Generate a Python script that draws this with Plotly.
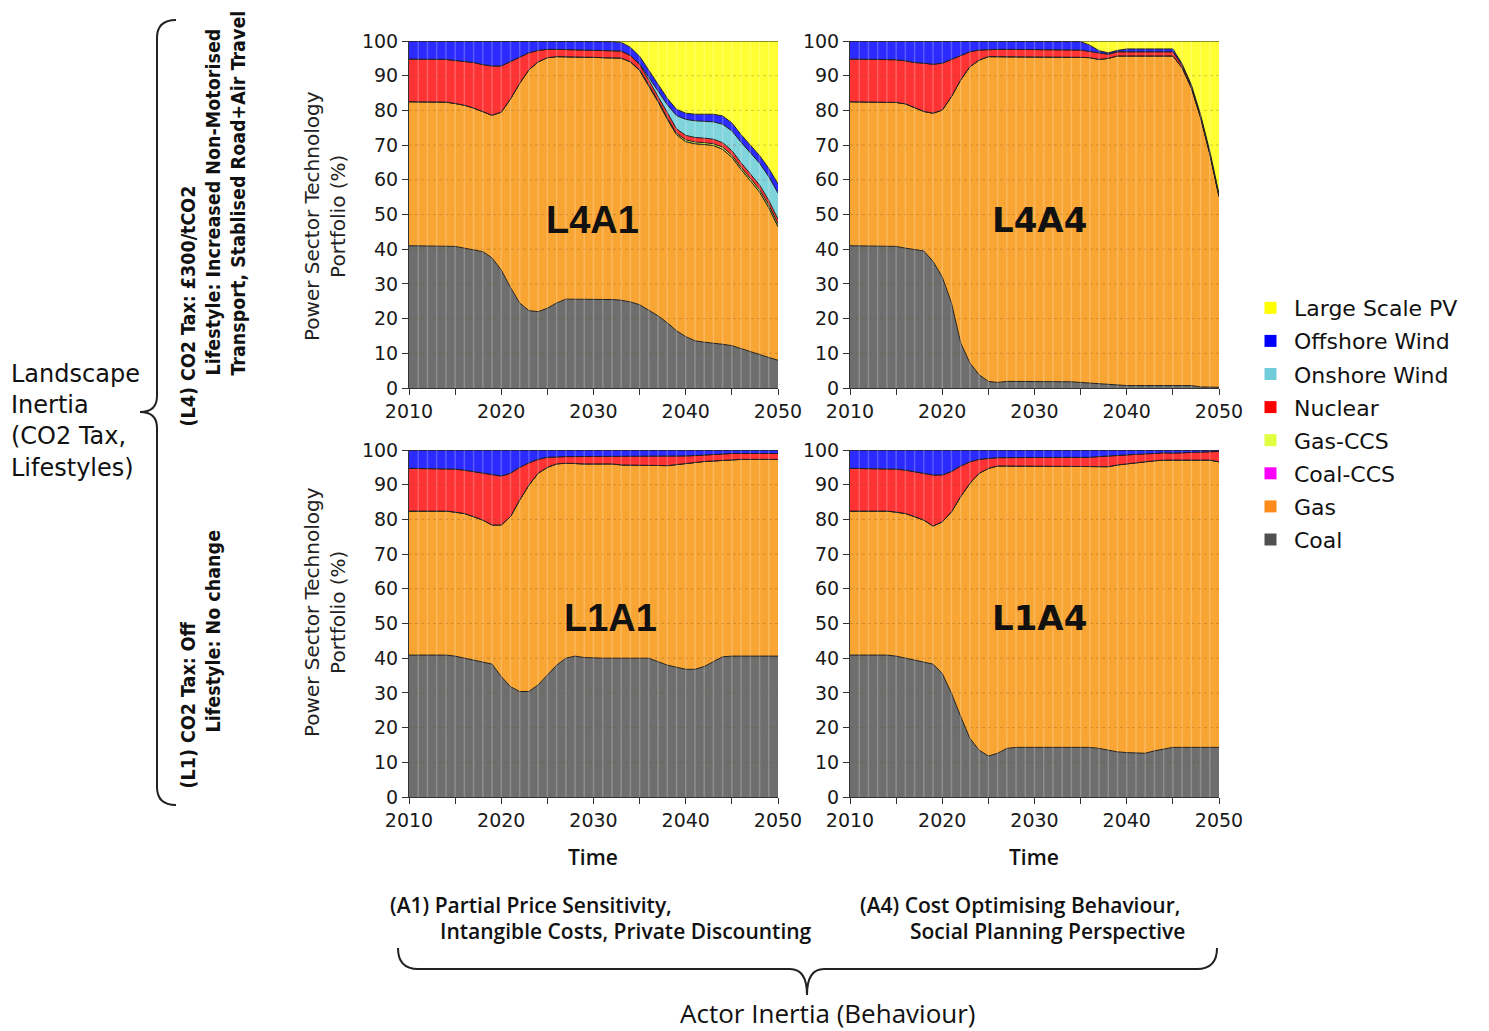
import plotly.graph_objects as go

W, H = 1489, 1031

years = list(range(2010, 2051))

series_names = ["Coal", "Gas", "Coal-CCS", "Gas-CCS", "Nuclear", "Onshore Wind", "Offshore Wind", "Large Scale PV"]
fill_colors = ["#6E6E6E", "#F9A533", "#FF00FF", "#DDFF44", "#FF3333", "#80D4DC", "#2B2BFF", "#FFFF33"]
legend_colors = ["#505050", "#FF8C1A", "#FF00FF", "#E0FF40", "#FF0000", "#70CCD8", "#0000FF", "#FFFF00"]

x_tick_vals = [2010, 2015, 2020, 2025, 2030, 2035, 2040, 2045, 2050]
x_tick_text = ["2010", "", "2020", "", "2030", "", "2040", "", "2050"]
y_tick_vals = [0, 10, 20, 30, 40, 50, 60, 70, 80, 90, 100]

# ---------------- L4A1 ----------------
L4A1_coal = [41.0, 41.0, 41.0, 41.0, 41.0, 40.8, 40.3, 39.8, 39.3, 37.5, 34.0, 29.0, 24.5, 22.3, 22.0, 23.0, 24.5, 25.6, 25.6, 25.6,
             25.6, 25.6, 25.5, 25.3, 24.8, 24.0, 22.5, 20.8, 18.8, 16.5, 14.8, 13.6, 13.2, 13.0, 12.6, 12.2, 11.3, 10.4, 9.6, 8.8, 8.0]
L4A1_gas = [41.5, 41.5, 41.5, 41.5, 41.4, 41.2, 41.2, 40.9, 40.4, 41.1, 45.5, 54.3, 63.3, 69.4, 72.0, 72.2, 71.0, 69.9, 69.9, 69.9,
            69.7, 69.6, 69.7, 69.8, 69.2, 67.5, 64.5, 61.7, 58.7, 56.5, 56.2, 56.8, 57.0, 56.9, 56.2, 54.3, 51.7, 49.4, 46.9, 43.2, 38.5]
L4A1_coalccs = [0, 0, 0, 0, 0, 0, 0, 0, 0, 0, 0, 0, 0, 0, 0, 0, 0, 0, 0, 0,
                0, 0, 0, 0, 0, 0, 0, 0, 0, 0, 0, 0, 0, 0, 0, 0, 0, 0, 0, 0, 0]
L4A1_gasccs = [0, 0, 0, 0, 0, 0, 0, 0, 0, 0, 0, 0, 0, 0, 0, 0, 0, 0, 0, 0,
               0, 0, 0, 0, 0, 0.2, 0.3, 0.3, 0.3, 0.4, 0.5, 0.5, 0.5, 0.5, 0.6, 0.6, 0.6, 0.7, 0.7, 0.8, 0.8]
L4A1_nuclear = [12.3, 12.3, 12.3, 12.3, 12.3, 12.4, 12.7, 13.1, 13.5, 14.2, 13.3, 10.8, 7.7, 4.9, 3.3, 2.4, 2.1, 2.0, 2.0, 2.0,
                2.0, 2.0, 2.0, 2.0, 1.8, 1.5, 1.4, 1.3, 1.3, 1.3, 1.3, 1.3, 1.3, 1.3, 1.3, 1.3, 1.3, 1.3, 1.3, 1.3, 1.3]
L4A1_onshore = [0, 0, 0, 0, 0, 0, 0, 0, 0, 0, 0, 0, 0, 0, 0, 0, 0, 0, 0, 0,
                0, 0, 0, 0, 0, 0.2, 0.8, 1.5, 2.5, 3.8, 4.6, 4.8, 4.9, 5.0, 5.3, 5.7, 5.9, 6.0, 6.3, 6.8, 7.6]
L4A1_offshore = [5.2, 5.2, 5.2, 5.2, 5.3, 5.6, 5.8, 6.2, 6.8, 7.2, 7.2, 5.9, 4.5, 3.4, 2.7, 2.4, 2.4, 2.5, 2.5, 2.5,
                 2.7, 2.8, 2.6, 2.5, 2.4, 2.2, 2.0, 1.9, 1.9, 1.8, 1.8, 1.9, 2.0, 2.2, 2.4, 2.3, 2.2, 2.2, 2.2, 2.4, 2.6]
L4A1_pv = [0, 0, 0, 0, 0, 0, 0, 0, 0, 0, 0, 0, 0, 0, 0, 0, 0, 0, 0, 0,
           0, 0, 0.2, 0.4, 1.8, 4.4, 8.5, 12.5, 16.5, 19.7, 20.8, 21.1, 21.1, 21.1, 21.6, 23.6, 27.0, 30.0, 33.0, 36.7, 41.2]

# ---------------- L4A4 ----------------
L4A4_coal = [41.0, 41.0, 41.0, 41.0, 41.0, 40.8, 40.3, 39.9, 39.5, 36.5, 32.0, 24.5, 13.0, 7.2, 3.8, 1.9, 1.6, 1.9, 1.9, 1.9,
             1.9, 1.9, 1.9, 1.9, 1.8, 1.6, 1.4, 1.2, 1.0, 0.8, 0.7, 0.7, 0.7, 0.7, 0.7, 0.7, 0.7, 0.7, 0.3, 0.2, 0.2]
L4A4_gas = [41.5, 41.5, 41.5, 41.5, 41.5, 41.5, 41.6, 40.9, 40.2, 42.7, 48.1, 59.5, 75.8, 85.4, 90.7, 93.6, 93.9, 93.6, 93.6, 93.6,
            93.6, 93.4, 93.4, 93.4, 93.5, 93.7, 93.8, 93.5, 94.0, 94.9, 95.0, 95.0, 95.0, 95.0, 95.0, 95.0, 91.6, 85.8, 77.7, 67.3, 55.0]
L4A4_coalccs = [0, 0, 0, 0, 0, 0, 0, 0, 0, 0, 0, 0, 0, 0, 0, 0, 0, 0, 0, 0,
                0, 0, 0, 0, 0, 0, 0, 0, 0, 0, 0, 0, 0, 0, 0, 0, 0, 0, 0, 0, 0]
L4A4_gasccs = [0, 0, 0, 0, 0, 0, 0, 0, 0, 0, 0, 0, 0, 0, 0, 0, 0, 0, 0, 0,
               0, 0, 0, 0, 0, 0, 0, 0, 0, 0, 0, 0, 0, 0, 0, 0, 0, 0, 0, 0, 0]
L4A4_nuclear = [12.3, 12.3, 12.3, 12.3, 12.3, 12.3, 12.4, 13.0, 13.9, 14.1, 13.5, 10.7, 7.2, 4.3, 2.9, 2.1, 2.1, 2.1, 2.1, 2.1,
                2.1, 2.1, 2.1, 2.1, 2.1, 2.1, 1.8, 1.9, 1.2, 1.2, 1.2, 1.2, 1.2, 1.2, 1.2, 1.2, 0.8, 0.6, 0.5, 0.5, 0.5]
L4A4_onshore = [0, 0, 0, 0, 0, 0, 0, 0, 0, 0, 0, 0, 0, 0, 0, 0, 0, 0, 0, 0,
                0, 0, 0, 0, 0, 0, 0, 0, 0, 0, 0, 0, 0, 0, 0, 0, 0, 0, 0, 0, 0]
L4A4_offshore = [5.2, 5.2, 5.2, 5.2, 5.2, 5.4, 5.7, 6.2, 6.4, 6.7, 6.4, 5.3, 4.0, 3.1, 2.6, 2.4, 2.4, 2.4, 2.4, 2.4,
                 2.4, 2.6, 2.6, 2.6, 2.6, 2.4, 1.8, 0.6, 0.4, 0.4, 0.8, 0.8, 0.8, 0.8, 0.8, 0.8, 0.3, 0.3, 0.3, 0.3, 0.3]
L4A4_pv = [0, 0, 0, 0, 0, 0, 0, 0, 0, 0, 0, 0, 0, 0, 0, 0, 0, 0, 0, 0,
           0, 0, 0, 0, 0, 0.2, 1.2, 2.8, 3.4, 2.7, 2.3, 2.3, 2.3, 2.3, 2.3, 2.3, 6.6, 12.6, 21.2, 31.7, 44.0]

# ---------------- L1A1 ----------------
L1A1_coal = [40.9, 40.9, 40.9, 40.9, 40.9, 40.6, 40.0, 39.5, 39.0, 38.3, 34.7, 31.8, 30.4, 30.4, 32.3, 35.2, 38.0, 40.0, 40.6, 40.2,
             40.0, 40.0, 40.0, 40.0, 40.0, 40.0, 40.0, 39.0, 38.0, 37.4, 36.8, 36.8, 37.6, 39.0, 40.4, 40.6, 40.6, 40.6, 40.6, 40.6, 40.6]
L1A1_gas = [41.5, 41.5, 41.5, 41.5, 41.5, 41.5, 41.7, 41.3, 40.8, 40.1, 43.7, 49.0, 55.2, 59.5, 61.0, 59.8, 58.0, 56.2, 55.4, 55.8,
            56.0, 56.0, 56.0, 55.7, 55.7, 55.7, 55.7, 56.7, 57.5, 58.4, 59.4, 59.6, 59.1, 57.9, 56.7, 56.7, 56.7, 56.7, 56.7, 56.7, 56.7]
L1A1_coalccs = [0, 0, 0, 0, 0, 0, 0, 0, 0, 0, 0, 0, 0, 0, 0, 0, 0, 0, 0, 0,
                0, 0, 0, 0, 0, 0, 0, 0, 0, 0, 0, 0, 0, 0, 0, 0, 0, 0, 0, 0, 0]
L1A1_gasccs = [0, 0, 0, 0, 0, 0, 0, 0, 0, 0, 0, 0, 0, 0, 0, 0, 0, 0, 0, 0,
               0, 0, 0, 0, 0, 0, 0, 0, 0, 0, 0, 0, 0, 0, 0, 0, 0, 0, 0, 0, 0]
L1A1_nuclear = [12.3, 12.3, 12.3, 12.3, 12.3, 12.4, 12.5, 13.0, 13.5, 14.4, 14.1, 12.5, 9.4, 6.4, 4.0, 2.9, 2.1, 1.9, 2.1, 2.1,
                2.1, 2.1, 2.1, 2.4, 2.4, 2.4, 2.4, 2.4, 2.7, 2.4, 2.1, 2.0, 1.9, 1.8, 1.8, 1.7, 1.7, 1.7, 1.7, 1.7, 1.7]
L1A1_onshore = [0, 0, 0, 0, 0, 0, 0, 0, 0, 0, 0, 0, 0, 0, 0, 0, 0, 0, 0, 0,
                0, 0, 0, 0, 0, 0, 0, 0, 0, 0, 0, 0, 0, 0, 0, 0, 0, 0, 0, 0, 0]
L1A1_offshore = [5.3, 5.3, 5.3, 5.3, 5.3, 5.5, 5.8, 6.2, 6.7, 7.2, 7.5, 6.7, 5.0, 3.7, 2.7, 2.1, 1.9, 1.9, 1.9, 1.9,
                 1.9, 1.9, 1.9, 1.9, 1.9, 1.9, 1.9, 1.9, 1.8, 1.8, 1.7, 1.6, 1.4, 1.3, 1.1, 1.0, 1.0, 1.0, 1.0, 1.0, 1.0]
L1A1_pv = [0, 0, 0, 0, 0, 0, 0, 0, 0, 0, 0, 0, 0, 0, 0, 0, 0, 0, 0, 0,
           0, 0, 0, 0, 0, 0, 0, 0, 0, 0, 0, 0, 0, 0, 0, 0, 0, 0, 0, 0, 0]

# ---------------- L1A4 ----------------
L1A4_coal = [40.9, 40.9, 40.9, 40.9, 40.9, 40.6, 40.0, 39.5, 39.0, 38.3, 35.6, 29.9, 23.2, 16.9, 13.5, 11.8, 12.6, 14.0, 14.3, 14.3,
             14.3, 14.3, 14.3, 14.3, 14.3, 14.3, 14.3, 14.0, 13.4, 13.0, 12.8, 12.6, 12.6, 13.3, 13.7, 14.3, 14.3, 14.3, 14.3, 14.3, 14.3]
L1A4_gas = [41.5, 41.5, 41.5, 41.5, 41.5, 41.5, 41.7, 41.3, 40.8, 39.8, 43.7, 52.3, 63.4, 73.5, 79.8, 82.9, 82.8, 81.4, 81.1, 81.1,
            81.1, 80.9, 80.9, 80.9, 80.9, 80.9, 80.9, 81.4, 81.8, 82.7, 83.2, 83.8, 84.2, 83.6, 83.4, 82.8, 82.8, 82.8, 82.8, 82.8, 82.3]
L1A4_coalccs = [0, 0, 0, 0, 0, 0, 0, 0, 0, 0, 0, 0, 0, 0, 0, 0, 0, 0, 0, 0,
                0, 0, 0, 0, 0, 0, 0, 0, 0, 0, 0, 0, 0, 0, 0, 0, 0, 0, 0, 0, 0]
L1A4_gasccs = [0, 0, 0, 0, 0, 0, 0, 0, 0, 0, 0, 0, 0, 0, 0, 0, 0, 0, 0, 0,
               0, 0, 0, 0, 0, 0, 0, 0, 0, 0, 0, 0, 0, 0, 0, 0, 0, 0, 0, 0, 0]
L1A4_nuclear = [12.3, 12.3, 12.3, 12.3, 12.3, 12.4, 12.5, 13.0, 13.5, 14.7, 13.5, 11.6, 8.8, 6.2, 4.0, 2.9, 2.4, 2.4, 2.4, 2.4,
                2.4, 2.6, 2.6, 2.6, 2.6, 2.6, 2.7, 2.7, 3.1, 2.8, 2.6, 2.3, 2.1, 2.1, 2.1, 2.0, 2.1, 2.2, 2.3, 2.5, 3.0]
L1A4_onshore = [0, 0, 0, 0, 0, 0, 0, 0, 0, 0, 0, 0, 0, 0, 0, 0, 0, 0, 0, 0,
                0, 0, 0, 0, 0, 0, 0, 0, 0, 0, 0, 0, 0, 0, 0, 0, 0, 0, 0, 0, 0]
L1A4_offshore = [5.3, 5.3, 5.3, 5.3, 5.3, 5.5, 5.8, 6.2, 6.7, 7.2, 7.2, 6.2, 4.6, 3.4, 2.7, 2.4, 2.2, 2.2, 2.2, 2.2,
                 2.2, 2.2, 2.2, 2.2, 2.2, 2.2, 2.1, 1.9, 1.7, 1.5, 1.4, 1.3, 1.1, 1.0, 0.8, 0.9, 0.8, 0.7, 0.6, 0.4, 0.4]
L1A4_pv = [0, 0, 0, 0, 0, 0, 0, 0, 0, 0, 0, 0, 0, 0, 0, 0, 0, 0, 0, 0,
           0, 0, 0, 0, 0, 0, 0, 0, 0, 0, 0, 0, 0, 0, 0, 0, 0, 0, 0, 0, 0]

panel_labels = ["L4A1", "L4A4", "L1A1", "L1A4"]

panels = [
    [L4A1_coal, L4A1_gas, L4A1_coalccs, L4A1_gasccs, L4A1_nuclear, L4A1_onshore, L4A1_offshore, L4A1_pv],
    [L4A4_coal, L4A4_gas, L4A4_coalccs, L4A4_gasccs, L4A4_nuclear, L4A4_onshore, L4A4_offshore, L4A4_pv],
    [L1A1_coal, L1A1_gas, L1A1_coalccs, L1A1_gasccs, L1A1_nuclear, L1A1_onshore, L1A1_offshore, L1A1_pv],
    [L1A4_coal, L1A4_gas, L1A4_coalccs, L1A4_gasccs, L1A4_nuclear, L1A4_onshore, L1A4_offshore, L1A4_pv],
]

# pixel layout of plot areas (left, right, top, bottom)
boxes = [(409, 778, 41, 388), (850, 1219, 41, 388), (409, 778, 450, 797), (850, 1219, 450, 797)]


def px(x):
    return x / W


def py(y):
    return 1 - y / H


fig = go.Figure()
axis_ids = ["", "2", "3", "4"]

for i, data in enumerate(panels):
    xa = "x" + axis_ids[i]
    ya = "y" + axis_ids[i]
    for j, name in enumerate(series_names):
        fig.add_trace(go.Scatter(
            x=years, y=data[j], name=name, xaxis=xa, yaxis=ya,
            mode="lines", stackgroup="g" + str(i), groupnorm="percent",
            line=dict(color="#1e1e1e", width=1), fillcolor=fill_colors[j],
            showlegend=False, hoverinfo="x+y+name",
        ))

# legend entries (square markers)
for j in reversed(range(len(series_names))):
    fig.add_trace(go.Scatter(
        x=[None], y=[None], mode="markers", name=series_names[j],
        marker=dict(symbol="square", size=17, color=legend_colors[j], line=dict(width=0)),
        legendgroup=series_names[j], showlegend=True,
    ))

layout = dict(
    template="none",
    width=W, height=H, margin=dict(l=0, r=0, t=0, b=0, autoexpand=False),
    paper_bgcolor="white", plot_bgcolor="white",
    showlegend=True,
    legend=dict(x=px(1247), y=py(287), xanchor="left", yanchor="top",
                font=dict(family="DejaVu Sans", size=22, color="#111111"),
                bgcolor="rgba(0,0,0,0)", traceorder="grouped", tracegroupgap=1.5,
                itemsizing="constant", itemwidth=37, borderwidth=0),
)

for i, (l, r, t, b) in enumerate(boxes):
    xk = "xaxis" + axis_ids[i]
    yk = "yaxis" + axis_ids[i]
    layout[xk] = dict(domain=[px(l), px(r)], range=[2010, 2050], anchor="y" + axis_ids[i],
                      tickvals=x_tick_vals, ticktext=x_tick_text, ticks="outside", ticklen=6,
                      tickcolor="#333333", showline=True, linecolor="#333333", linewidth=1,
                      showgrid=False, zeroline=False, fixedrange=True, automargin=False,
                      tickfont=dict(family="DejaVu Sans", size=19, color="#1a1a1a"))
    layout[yk] = dict(domain=[py(b), py(t)], range=[0, 100], anchor="x" + axis_ids[i],
                      tickvals=y_tick_vals, ticks="outside", ticklen=6,
                      tickcolor="#333333", showline=True, linecolor="#333333", linewidth=1,
                      showgrid=False, zeroline=False, fixedrange=True, automargin=False,
                      tickfont=dict(family="DejaVu Sans", size=19, color="#1a1a1a"))

fig.update_layout(**layout)

shapes = []
for i in range(4):
    xr = "x" + axis_ids[i]
    yr = "y" + axis_ids[i]
    for yv in y_tick_vals[1:-1]:
        shapes.append(dict(type="line", xref=xr, yref=yr, x0=2010, x1=2050, y0=yv, y1=yv, layer="above",
                           line=dict(color="rgba(120,80,20,0.30)", width=1, dash="dot")))
    for yr_ in years[1:-1]:
        shapes.append(dict(type="line", xref=xr, yref=yr, x0=yr_, x1=yr_, y0=0, y1=100, layer="above",
                           line=dict(color="rgba(255,255,255,0.22)", width=1.5)))


def P(x, y):
    return f"{px(x):.5f},{py(y):.5f}"


left_brace = ("M " + P(176, 20) + " Q " + P(157, 20) + " " + P(157, 38) + " L " + P(157, 396) +
              " Q " + P(157, 412) + " " + P(140, 412) + " Q " + P(157, 412) + " " + P(157, 428) +
              " L " + P(157, 787) + " Q " + P(157, 805) + " " + P(176, 805))
bottom_brace = ("M " + P(398, 948) + " Q " + P(398, 969) + " " + P(418, 969) + " L " + P(790, 969) +
                " Q " + P(807, 969) + " " + P(807, 995) + " Q " + P(807, 969) + " " + P(824, 969) +
                " L " + P(1197, 969) + " Q " + P(1217, 969) + " " + P(1217, 948))
shapes.append(dict(type="path", xref="paper", yref="paper", path=left_brace, line=dict(color="#222222", width=2)))
shapes.append(dict(type="path", xref="paper", yref="paper", path=bottom_brace, line=dict(color="#222222", width=2)))
fig.update_layout(shapes=shapes)

annotations = []


def ann(text, x, y, size, family, color="#111111", weight="normal", xanchor="center", yanchor="middle",
        textangle=0, align="center"):
    annotations.append(dict(text=text, x=px(x), y=py(y), xref="paper", yref="paper", showarrow=False,
                            xanchor=xanchor, yanchor=yanchor, textangle=textangle, align=align,
                            font=dict(size=size, family=family, color=color, weight=weight)))


# panel labels
ann(panel_labels[0], 592, 220, 38, "Liberation Sans, Arial", weight="bold")
ann(panel_labels[1], 1039, 220, 34, "DejaVu Sans", weight="bold")
ann(panel_labels[2], 610, 618, 38, "Liberation Sans, Arial", weight="bold")
ann(panel_labels[3], 1039, 618, 34, "DejaVu Sans", weight="bold")

# y-axis titles
for yc in (216, 612):
    ann("Power Sector Technology<br>Portfolio (%)", 325, yc, 20, "DejaVu Sans", color="#222222", textangle=-90)

# x-axis titles
sans = "Open Sans, Noto Sans, DejaVu Sans"
ann("Time", 593, 857, 21, sans, weight=600)
ann("Time", 1034, 857, 21, sans, weight=600)

# landscape text
ann("Landscape<br>Inertia<br>(CO2 Tax,<br>Lifestyles)", 9, 421, 24, "DejaVu Sans", xanchor="left", align="left")

cond = "Liberation Sans Narrow, DejaVu Sans Condensed, Arial Narrow, sans-serif"
ann("(L4) CO2 Tax: £300/tCO2", 188, 428, 19.5, cond, weight="bold", textangle=-90, yanchor="bottom")
ann("Lifestyle: Increased Non-Motorised", 213, 378, 19.5, cond, weight="bold", textangle=-90, yanchor="bottom")
ann("Transport, Stablised Road+Air Travel", 238, 378, 19.5, cond, weight="bold", textangle=-90, yanchor="bottom")
ann("(L1) CO2 Tax: Off", 188, 790, 19.5, cond, weight="bold", textangle=-90, yanchor="bottom")
ann("Lifestyle: No change", 213, 735, 19.5, cond, weight="bold", textangle=-90, yanchor="bottom")

# actor captions
ann("(A1) Partial Price Sensitivity,", 388, 905, 21, sans, weight=600, xanchor="left")
ann("Intangible Costs, Private Discounting", 438, 931, 21, sans, weight=600, xanchor="left")
ann("(A4) Cost Optimising Behaviour,", 858, 905, 21, sans, weight=600, xanchor="left")
ann("Social Planning Perspective", 908, 931, 21, sans, weight=600, xanchor="left")
ann("Actor Inertia (Behaviour)", 828, 1013, 26, sans, weight=500)

fig.update_layout(annotations=annotations)

fig.write_html("out.html")
